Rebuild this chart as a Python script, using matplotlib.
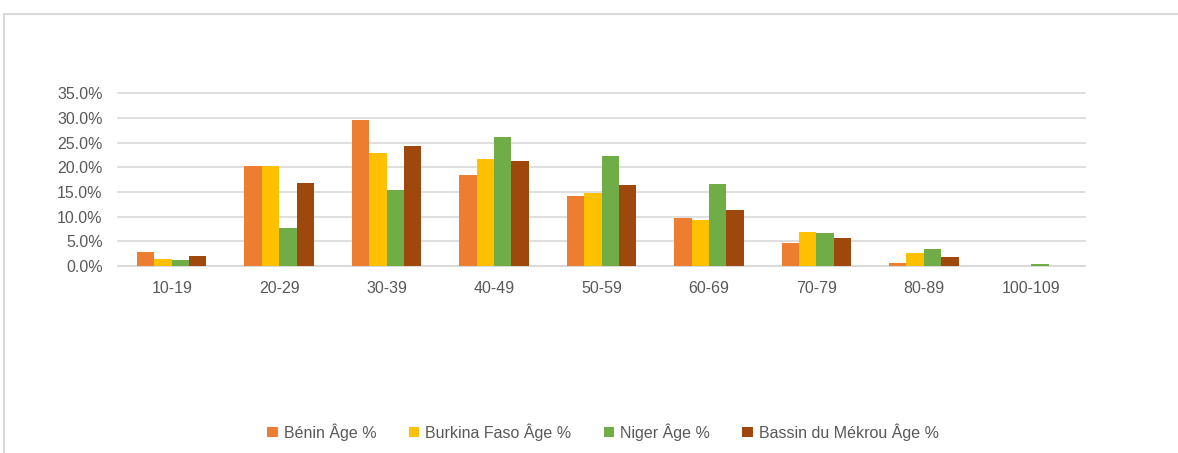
import numpy as np
import matplotlib.pyplot as plt
from matplotlib.patches import Rectangle
from matplotlib.ticker import PercentFormatter

plt.rcParams['font.family'] = ['Liberation Sans', 'DejaVu Sans']

# --- Data ---
categories = ["10-19", "20-29", "30-39", "40-49", "50-59", "60-69", "70-79", "80-89", "100-109"]
series_names = ["Bénin Âge %", "Burkina Faso Âge %", "Niger Âge %", "Bassin du Mékrou Âge %"]
benin = [2.8, 20.3, 29.6, 18.4, 14.2, 9.7, 4.6, 0.6, 0.0]
burkina = [1.4, 20.3, 22.9, 21.7, 14.8, 9.4, 6.8, 2.6, 0.0]
niger = [1.2, 7.8, 15.5, 26.1, 22.3, 16.6, 6.6, 3.4, 0.5]
mekrou = [2.0, 16.8, 24.3, 21.3, 16.4, 11.4, 5.6, 1.8, 0.0]
colors = ["#ED7D31", "#FFC000", "#70AD47", "#9E480E"]

# --- Figure ---
fig = plt.figure(figsize=(11.78, 4.53), dpi=100)
ax = fig.add_axes([118 / 1178, 1 - 266 / 453, (1085 - 118) / 1178, (266 - 93.3) / 453])

x = np.arange(len(categories))
width = 0.1615
all_series = [benin, burkina, niger, mekrou]
for i, (vals, name, col) in enumerate(zip(all_series, series_names, colors)):
    ax.bar(x + (i - 1.5) * width, vals, width, color=col, label=name, zorder=3)

ax.set_xlim(-0.5, len(categories) - 0.5)
ax.set_ylim(0, 35)
ax.set_yticks(np.arange(0, 36, 5))
ax.yaxis.set_major_formatter(PercentFormatter(decimals=1))
ax.set_xticks(x)
ax.set_xticklabels(categories)
ax.grid(axis="y", color="#D9D9D9", linewidth=1.2, zorder=0)
for gl in ax.get_ygridlines():
    gl.set_clip_on(False)
for s in ["top", "right", "left"]:
    ax.spines[s].set_visible(False)
ax.spines["bottom"].set_color("#D9D9D9")
ax.spines["bottom"].set_linewidth(1.2)
ax.tick_params(length=0, labelsize=11.5, labelcolor="#595959")
ax.tick_params(axis="x", pad=11)
ax.tick_params(axis="y", pad=11)

leg = fig.legend(loc="center", bbox_to_anchor=(0.512, 1 - 432 / 453), ncol=4, frameon=False,
                 fontsize=11.5, handlelength=0.65, handleheight=0.65, handletextpad=0.4,
                 columnspacing=2.0)
for t in leg.get_texts():
    t.set_color("#595959")

# chart border
fig.patches.append(Rectangle((4 / 1178, -0.05), 1.1, 1 - 14 / 453 + 0.05, transform=fig.transFigure,
                             fill=False, edgecolor="#D9D9D9", linewidth=1.5))

fig.savefig("out.png", dpi=100)
